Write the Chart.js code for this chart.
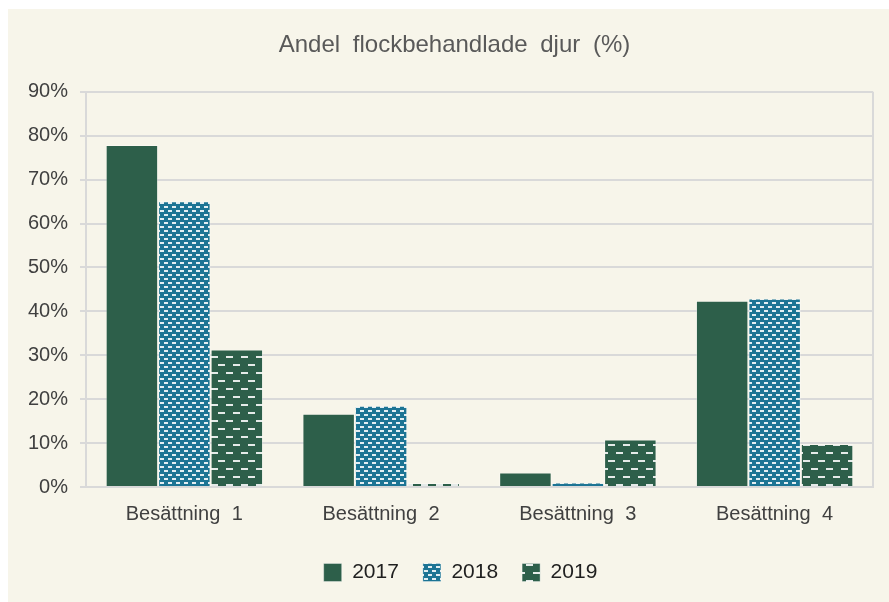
<!DOCTYPE html>
<html>
<head>
<meta charset="utf-8">
<script src="https://cdn.jsdelivr.net/npm/chart.js@4.4.1/dist/chart.umd.min.js"></script>
<style>
  html, body { margin: 0; padding: 0; background: #ffffff; overflow: hidden; }
  #wrap { position: absolute; left: 8px; top: 9px; width: 881px; height: 593px; background: #f7f5ea; }
</style>
</head>
<body>
<div id="wrap"><canvas id="chart" width="881" height="593"></canvas></div>
<script>
const categories = ['Besättning 1', 'Besättning 2', 'Besättning 3', 'Besättning 4'];
const seriesNames = ['2017', '2018', '2019'];
const values2017 = [77.9, 16.7, 3.3, 42.4];
const values2018 = [65.1, 18.5, 1.0, 42.9];
const values2019 = [31.3, 0.9, 10.8, 9.8];
const yTicks = [0, 10, 20, 30, 40, 50, 60, 70, 80, 90];

const green = '#2d5f4a';
const teal = '#1c7494';

// small dash patterns like the excel fills
function makePattern(bg, w, h, dashes) {
  const c = document.createElement('canvas');
  c.width = w; c.height = h;
  const g = c.getContext('2d');
  g.fillStyle = bg;
  g.fillRect(0, 0, w, h);
  g.fillStyle = 'rgba(255,255,255,0.88)';
  dashes.forEach(d => g.fillRect(d[0], d[1], d[2], d[3]));
  return g.createPattern(c, 'repeat');
}

const pattern2018 = makePattern(teal, 8, 8, [[0, 1, 4, 2], [4, 5, 4, 2]]);
const pattern2019 = makePattern(green, 15, 16, [[0, 3, 7, 2], [8, 11, 7, 2]]);

// right edge of plot area + nudge title/legend to where excel put them
const plotBorder = {
  id: 'plotBorder',
  afterLayout(chart) {
    chart.legend.left += 20;
    chart.legend.right += 20;
    chart.titleBlock.left += 14;
    chart.titleBlock.right += 14;
  },
  beforeDraw(chart) {
    chart.ctx.wordSpacing = '6px';
  },
  afterDatasetsDraw(chart) {
    const { ctx, chartArea } = chart;
    ctx.save();
    ctx.strokeStyle = '#d9d9d9';
    ctx.lineWidth = 2;
    ctx.beginPath();
    ctx.moveTo(chartArea.right, chartArea.top);
    ctx.lineTo(chartArea.right, chartArea.bottom);
    ctx.stroke();
    ctx.restore();
  }
};

new Chart(document.getElementById('chart'), {
  type: 'bar',
  data: {
    labels: categories,
    datasets: [
      { label: seriesNames[0], data: values2017, backgroundColor: green, borderColor: 'rgba(255,255,255,0.35)', borderWidth: 1 },
      { label: seriesNames[1], data: values2018, backgroundColor: pattern2018, borderColor: 'rgba(255,255,255,0.35)', borderWidth: 1 },
      { label: seriesNames[2], data: values2019, backgroundColor: pattern2019, borderColor: 'rgba(255,255,255,0.35)', borderWidth: 1 }
    ]
  },
  options: {
    responsive: false,
    animation: false,
    categoryPercentage: 0.8,
    barPercentage: 1.0,
    layout: { padding: { left: 0, right: 16, top: 0, bottom: 9 } },
    plugins: {
      title: {
        display: true,
        text: 'Andel flockbehandlade djur (%)',
        color: '#595959',
        font: { family: 'Liberation Sans', size: 24, weight: 'normal' },
        padding: { top: 22, bottom: 32 }
      },
      legend: {
        position: 'bottom',
        labels: {
          boxWidth: 18,
          boxHeight: 18,
          padding: 24,
          color: '#1f1f1f',
          font: { family: 'Liberation Sans', size: 21 }
        }
      },
      tooltip: { enabled: false }
    },
    scales: {
      x: {
        afterFit(scale) { scale.height += 5; },
        grid: { display: false },
        border: { display: true, color: '#d9d9d9', width: 2 },
        ticks: { color: '#404040', padding: 7, font: { family: 'Liberation Sans', size: 20 } }
      },
      y: {
        min: 0,
        max: 90,
        afterFit(scale) { scale.width = 78; },
        afterBuildTicks(scale) { scale.ticks = yTicks.map(v => ({ value: v })); },
        grid: { color: '#d9d9d9', lineWidth: 2, tickLength: 6 },
        border: { display: true, color: '#d9d9d9', width: 2 },
        ticks: {
          color: '#404040',
          padding: 12,
          font: { family: 'Liberation Sans', size: 20 },
          callback: v => v + '%'
        }
      }
    }
  },
  plugins: [plotBorder]
});
</script>
</body>
</html>
